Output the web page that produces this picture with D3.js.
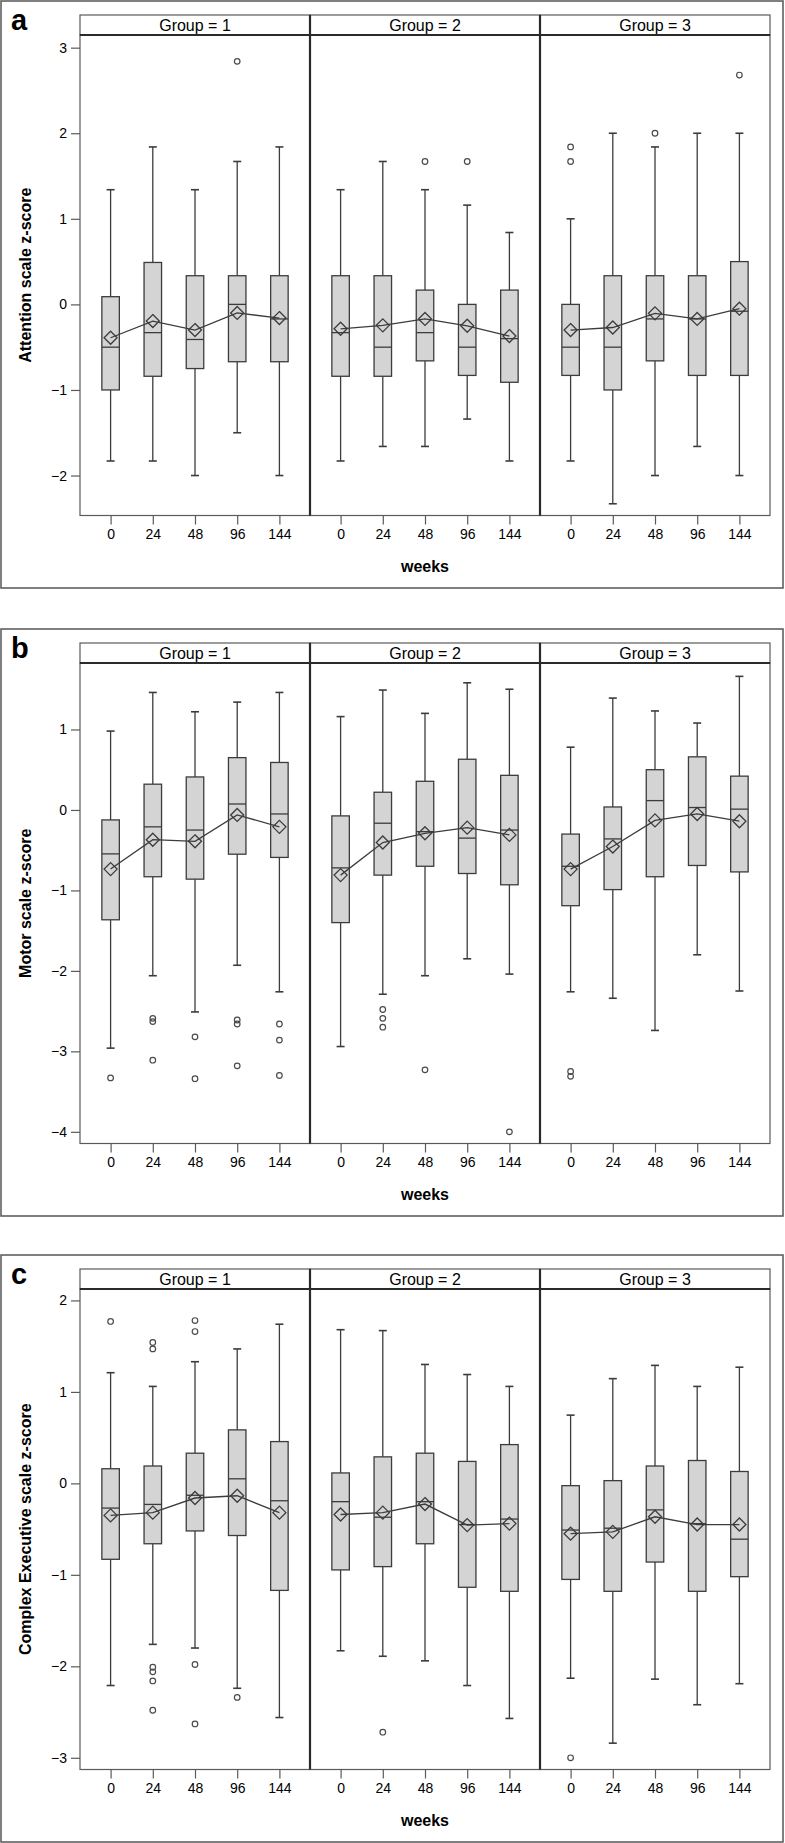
<!DOCTYPE html>
<html>
<head>
<meta charset="utf-8">
<script src="https://cdn.jsdelivr.net/npm/d3@7"></script>
<style>
  html, body { margin: 0; padding: 0; background: #fff; }
  svg { display: block; font-family: "Liberation Sans", Arial, sans-serif; }
</style>
</head>
<body>
<svg id="chart" width="785" height="1843"></svg>
<script>
// ---------- categories / labels ----------
const weeks = ["0", "24", "48", "96", "144"];
const groups = ["Group = 1", "Group = 2", "Group = 3"];
const panelLetters = ["a", "b", "c"];
const yTitles = ["Attention scale z-score", "Motor scale z-score", "Complex Executive scale z-score"];
const yTicks = [[-2, -1, 0, 1, 2, 3], [-4, -3, -2, -1, 0, 1], [-3, -2, -1, 0, 1, 2]];
const yDomains = [[-2.467, 3.148], [-4.145, 1.826], [-3.128, 2.125]];
const xTitle = "weeks";

// ---------- Attention (panel a) : rows = groups, cols = weeks ----------
const attnLow  = [[-1.83, -1.83, -2.00, -1.50, -2.00], [-1.83, -1.66, -1.66, -1.34, -1.83], [-1.83, -2.33, -2.00, -1.66, -2.00]];
const attnQ1   = [[-1.00, -0.84, -0.75, -0.67, -0.67], [-0.84, -0.84, -0.66, -0.83, -0.91], [-0.83, -1.00, -0.66, -0.83, -0.83]];
const attnMed  = [[-0.50, -0.33, -0.41, 0.00, -0.17], [-0.33, -0.50, -0.33, -0.50, -0.40], [-0.50, -0.50, -0.17, -0.17, -0.08]];
const attnQ3   = [[0.09, 0.49, 0.335, 0.335, 0.335], [0.335, 0.335, 0.167, 0.00, 0.167], [0.00, 0.335, 0.335, 0.335, 0.50]];
const attnHigh = [[1.34, 1.84, 1.34, 1.67, 1.84], [1.34, 1.67, 1.34, 1.16, 0.84], [1.00, 2.00, 1.84, 2.00, 2.00]];
const attnMean = [[-0.39, -0.195, -0.30, -0.10, -0.16], [-0.285, -0.245, -0.17, -0.25, -0.37], [-0.30, -0.27, -0.105, -0.17, -0.05]];
const attnOutliers = [[0, 3, 2.84], [1, 2, 1.67], [1, 3, 1.67], [2, 0, 1.67], [2, 0, 1.84], [2, 2, 2.00], [2, 4, 2.68]];

// ---------- Motor (panel b) ----------
const motorLow  = [[-2.96, -2.06, -2.51, -1.93, -2.26], [-2.94, -2.29, -2.06, -1.85, -2.04], [-2.26, -2.34, -2.74, -1.80, -2.25]];
const motorQ1   = [[-1.365, -0.83, -0.86, -0.55, -0.59], [-1.40, -0.81, -0.70, -0.79, -0.93], [-1.19, -0.99, -0.83, -0.69, -0.77]];
const motorMed  = [[-0.546, -0.21, -0.25, 0.074, -0.05], [-0.72, -0.165, -0.27, -0.35, -0.25], [-0.70, -0.36, 0.116, 0.03, 0.01]];
const motorQ3   = [[-0.124, 0.32, 0.41, 0.65, 0.59], [-0.074, 0.22, 0.356, 0.63, 0.43], [-0.30, 0.037, 0.50, 0.66, 0.42]];
const motorHigh = [[0.98, 1.46, 1.22, 1.34, 1.46], [1.16, 1.49, 1.20, 1.58, 1.50], [0.78, 1.39, 1.23, 1.08, 1.66]];
const motorMean = [[-0.735, -0.37, -0.39, -0.062, -0.21], [-0.81, -0.405, -0.29, -0.22, -0.31], [-0.735, -0.455, -0.13, -0.05, -0.14]];
const motorOutliers = [
  [0, 0, -3.33], [0, 1, -2.59], [0, 1, -2.63], [0, 1, -3.11], [0, 2, -2.82], [0, 2, -3.34],
  [0, 3, -2.61], [0, 3, -2.66], [0, 3, -3.18], [0, 4, -2.66], [0, 4, -2.86], [0, 4, -3.30],
  [1, 1, -2.48], [1, 1, -2.59], [1, 1, -2.70], [1, 2, -3.23], [1, 4, -4.00],
  [2, 0, -3.25], [2, 0, -3.31]
];

// ---------- Complex Executive (panel c) ----------
const execLow  = [[-2.21, -1.76, -1.80, -2.24, -2.56], [-1.83, -1.89, -1.94, -2.21, -2.57], [-2.13, -2.84, -2.14, -2.42, -2.19]];
const execQ1   = [[-0.83, -0.66, -0.52, -0.57, -1.17], [-0.946, -0.91, -0.66, -1.136, -1.18], [-1.05, -1.18, -0.86, -1.18, -1.02]];
const execMed  = [[-0.27, -0.23, -0.13, 0.05, -0.19], [-0.20, -0.37, -0.20, -0.45, -0.39], [-0.51, -0.49, -0.29, -0.44, -0.61]];
const execQ3   = [[0.16, 0.19, 0.33, 0.585, 0.457], [0.114, 0.29, 0.33, 0.24, 0.424], [-0.025, 0.03, 0.19, 0.25, 0.13]];
const execHigh = [[1.21, 1.06, 1.33, 1.47, 1.74], [1.68, 1.67, 1.30, 1.19, 1.06], [0.746, 1.145, 1.29, 1.06, 1.27]];
const execMean = [[-0.35, -0.32, -0.16, -0.135, -0.32], [-0.34, -0.32, -0.226, -0.456, -0.44], [-0.55, -0.53, -0.365, -0.45, -0.45]];
const execOutliers = [
  [0, 0, 1.77], [0, 1, 1.54], [0, 1, 1.47], [0, 1, -2.01], [0, 1, -2.06], [0, 1, -2.16], [0, 1, -2.48],
  [0, 2, 1.78], [0, 2, 1.66], [0, 2, -1.98], [0, 2, -2.63], [0, 3, -2.34],
  [1, 1, -2.72], [2, 0, -3.00]
];

// ---------- assemble ----------
const panels = [
  { low: attnLow, q1: attnQ1, med: attnMed, q3: attnQ3, high: attnHigh, mean: attnMean, out: attnOutliers },
  { low: motorLow, q1: motorQ1, med: motorMed, q3: motorQ3, high: motorHigh, mean: motorMean, out: motorOutliers },
  { low: execLow, q1: execQ1, med: execMed, q3: execQ3, high: execHigh, mean: execMean, out: execOutliers }
];

// ---------- layout ----------
const svg = d3.select("#chart");
const panelTops = [1, 629, 1255];
const outerH = 587;
const plotLeft = 80, facetW = 230;
const stripTop = 14, stripBot = 34, plotBot = 514.5;
const boxW = 17.5, capW = 8, diamondR = 6.5;
const lineCol = "#3c3c3c", frameCol = "#5a5a5a", darkCol = "#2a2a2a";

const x = d3.scalePoint().domain(weeks).range([0, facetW]).padding(0.725);

panels.forEach((P, pi) => {
  const g = svg.append("g").attr("transform", `translate(0,${panelTops[pi]})`);

  // outer figure border
  g.append("rect").attr("x", 1).attr("y", 0).attr("width", 782).attr("height", outerH)
    .attr("fill", "none").attr("stroke", "#606060").attr("stroke-width", 1.6);

  // panel letter
  g.append("text").attr("x", 11).attr("y", 29).text(panelLetters[pi])
    .attr("font-size", 29).attr("font-weight", "bold").attr("fill", "#000");

  const y = d3.scaleLinear().domain(yDomains[pi]).range([plotBot, stripBot]);

  // y axis
  const yAxis = g.append("g").attr("transform", `translate(${plotLeft},0)`)
    .call(d3.axisLeft(y).tickValues(yTicks[pi]).tickSize(9).tickPadding(4).tickFormat(d3.format("d")));
  yAxis.select(".domain").remove();
  yAxis.selectAll(".tick line").attr("stroke", frameCol).attr("stroke-width", 1.2);
  yAxis.selectAll(".tick text").attr("font-size", 14).attr("fill", "#000")
    .attr("font-family", "Liberation Sans, Arial, sans-serif");

  // y title
  g.append("text")
    .attr("transform", `translate(31,${(stripBot + plotBot) / 2}) rotate(-90)`)
    .attr("text-anchor", "middle").attr("font-size", 16).attr("font-weight", "bold")
    .text(yTitles[pi]);

  groups.forEach((gname, gi) => {
    const fx = plotLeft + gi * facetW;
    const fg = g.append("g").attr("transform", `translate(${fx},0)`);

    // plot area frame
    fg.append("rect").attr("x", 0).attr("y", stripBot).attr("width", facetW).attr("height", plotBot - stripBot)
      .attr("fill", "#fff").attr("stroke", frameCol).attr("stroke-width", 1.2);

    // strip
    fg.append("rect").attr("x", 0).attr("y", stripTop).attr("width", facetW).attr("height", stripBot - stripTop)
      .attr("fill", "#fff").attr("stroke", frameCol).attr("stroke-width", 1.2);
    fg.append("line").attr("x1", 0).attr("x2", facetW).attr("y1", stripBot).attr("y2", stripBot)
      .attr("stroke", darkCol).attr("stroke-width", 2.2);
    fg.append("text").attr("x", facetW / 2).attr("y", stripBot - 4.5).attr("text-anchor", "middle")
      .attr("font-size", 16).attr("fill", "#000").text(gname);

    // x axis
    const xAxis = fg.append("g").attr("transform", `translate(0,${plotBot})`)
      .call(d3.axisBottom(x).tickSize(9).tickPadding(5));
    xAxis.select(".domain").remove();
    xAxis.selectAll(".tick line").attr("stroke", frameCol).attr("stroke-width", 1.2);
    xAxis.selectAll(".tick text").attr("font-size", 14).attr("fill", "#000")
      .attr("font-family", "Liberation Sans, Arial, sans-serif");

    const rows = weeks.map((w, wi) => ({
      w, lo: P.low[gi][wi], q1: P.q1[gi][wi], med: P.med[gi][wi],
      q3: P.q3[gi][wi], hi: P.high[gi][wi], mean: P.mean[gi][wi]
    }));

    const bx = fg.selectAll("g.box").data(rows).enter().append("g").attr("class", "box")
      .attr("transform", d => `translate(${x(d.w)},0)`);
    // whiskers
    bx.append("line").attr("x1", 0).attr("x2", 0).attr("y1", d => y(d.hi)).attr("y2", d => y(d.q3))
      .attr("stroke", lineCol).attr("stroke-width", 1.3);
    bx.append("line").attr("x1", 0).attr("x2", 0).attr("y1", d => y(d.q1)).attr("y2", d => y(d.lo))
      .attr("stroke", lineCol).attr("stroke-width", 1.3);
    bx.append("line").attr("x1", -capW / 2).attr("x2", capW / 2).attr("y1", d => y(d.hi)).attr("y2", d => y(d.hi))
      .attr("stroke", lineCol).attr("stroke-width", 1.6);
    bx.append("line").attr("x1", -capW / 2).attr("x2", capW / 2).attr("y1", d => y(d.lo)).attr("y2", d => y(d.lo))
      .attr("stroke", lineCol).attr("stroke-width", 1.6);
    // box
    bx.append("rect").attr("x", -boxW / 2).attr("width", boxW)
      .attr("y", d => y(d.q3)).attr("height", d => y(d.q1) - y(d.q3))
      .attr("fill", "#d4d4d4").attr("stroke", lineCol).attr("stroke-width", 1.3);
    // median
    bx.append("line").attr("x1", -boxW / 2).attr("x2", boxW / 2).attr("y1", d => y(d.med)).attr("y2", d => y(d.med))
      .attr("stroke", lineCol).attr("stroke-width", 1.3);

    // mean line
    fg.append("path").datum(rows)
      .attr("d", d3.line().x(d => x(d.w)).y(d => y(d.mean)))
      .attr("fill", "none").attr("stroke", lineCol).attr("stroke-width", 1.3);
    // mean diamonds
    const diamond = `M0,${-diamondR}L${diamondR},0L0,${diamondR}L${-diamondR},0Z`;
    fg.selectAll("path.mean").data(rows).enter().append("path").attr("class", "mean")
      .attr("transform", d => `translate(${x(d.w)},${y(d.mean)})`)
      .attr("d", diamond).attr("fill", "none").attr("stroke", lineCol).attr("stroke-width", 1.3);

    // outliers
    fg.selectAll("circle.out").data(P.out.filter(o => o[0] === gi)).enter().append("circle")
      .attr("class", "out")
      .attr("cx", o => x(weeks[o[1]])).attr("cy", o => y(o[2])).attr("r", 2.8)
      .attr("fill", "none").attr("stroke", "#4a4a4a").attr("stroke-width", 1.2);
  });

  // darker dividers between facets
  [1, 2].forEach(k => {
    g.append("line").attr("x1", plotLeft + k * facetW).attr("x2", plotLeft + k * facetW)
      .attr("y1", stripTop).attr("y2", plotBot).attr("stroke", darkCol).attr("stroke-width", 2.2);
  });

  // x title
  g.append("text").attr("x", plotLeft + 1.5 * facetW).attr("y", 571).attr("text-anchor", "middle")
    .attr("font-size", 16).attr("font-weight", "bold").text(xTitle);
});
</script>
</body>
</html>
